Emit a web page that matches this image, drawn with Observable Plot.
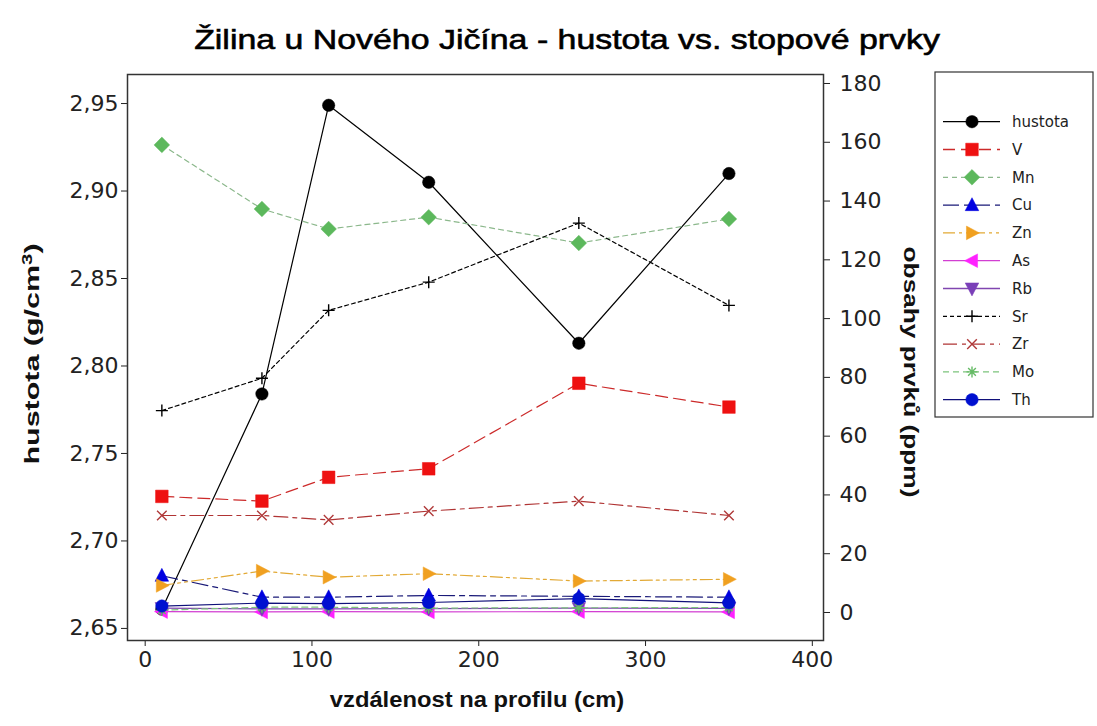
<!DOCTYPE html>
<html>
<head>
<meta charset="utf-8">
<script src="https://cdn.jsdelivr.net/npm/d3@7"></script>
<script src="https://cdn.jsdelivr.net/npm/@observablehq/plot@0.6"></script>
<style>
  html, body { margin: 0; padding: 0; background: #fff; }
  #wrap { position: relative; width: 1097px; height: 726px; overflow: hidden; background: #fff; }
  #chart { position: absolute; left: 0; top: 0; }
  .lbl { position: absolute; white-space: nowrap; font-family: "Liberation Sans", Arial, sans-serif; color: #111; line-height: 1; }
  #title { left: 567px; top: 40px; font-size: 28px; color: #000; -webkit-text-stroke: 0.6px #000; transform: translate(-50%, -50%) scaleX(1.21); }
  #xlabel { left: 477px; top: 700px; font-size: 22px; font-weight: bold; transform: translate(-50%, -50%) scaleX(1.08); }
  #ylabel { left: 31px; top: 354px; font-size: 21px; font-weight: bold; transform: translate(-50%, -50%) rotate(-90deg) scaleX(1.45); }
  #ylabel sup { font-size: 14px; vertical-align: 0.55em; }
  #y2label { left: 911px; top: 372px; font-size: 21px; font-weight: bold; transform: translate(-50%, -50%) rotate(90deg) scaleX(1.25); }
  #legend { position: absolute; left: 0; top: 0; }
</style>
</head>
<body>
<div id="wrap">
  <div id="chart"></div>
  <div class="lbl" id="title"></div>
  <div class="lbl" id="xlabel"></div>
  <div class="lbl" id="ylabel"></div>
  <div class="lbl" id="y2label"></div>
  <svg id="legend" width="1097" height="726"></svg>
</div>
<script>
// ---------------- data ----------------
const distance = [10, 70, 110, 170, 260, 350];
const hustota  = [2.661, 2.784, 2.949, 2.905, 2.813, 2.910];
const V  = [39.5, 37.9, 46.0, 48.9, 78.0, 69.9];
const Mn = [159.1, 137.3, 130.5, 134.5, 125.7, 133.9];
const Cu = [12.5, 5.2, 5.2, 5.8, 5.5, 5.2];
const Zn = [9.2, 14.1, 12.0, 13.2, 10.7, 11.3];
const As = [0.3, 0.2, 0.3, 0.2, 0.3, 0.2];
const Rb = [1.5, 1.2, 1.2, 1.3, 1.5, 1.4];
const Sr = [68.7, 79.7, 102.8, 112.4, 132.5, 104.5];
const Zr = [33.0, 33.0, 31.5, 34.5, 37.9, 33.0];
const Mo = [0.8, 1.8, 1.8, 1.5, 1.6, 1.7];
const Th = [2.2, 3.2, 3.0, 3.4, 4.7, 3.3];

const seriesNames  = ["hustota", "V", "Mn", "Cu", "Zn", "As", "Rb", "Sr", "Zr", "Mo", "Th"];
const seriesValues = [hustota, V, Mn, Cu, Zn, As, Rb, Sr, Zr, Mo, Th];

const xTicks       = [0, 100, 200, 300, 400];
const densityTicks = [2.65, 2.70, 2.75, 2.80, 2.85, 2.90, 2.95];
const ppmTicks     = [0, 20, 40, 60, 80, 100, 120, 140, 160, 180];

const titleText  = "Žilina u Nového Jičína - hustota vs. stopové prvky";
const xLabelText = "vzdálenost na profilu (cm)";
const yLabelHtml = "hustota (g/cm<sup>3</sup>)";
const y2LabelText = "obsahy prvků (ppm)";

// ---------------- styles ----------------
const lineColors   = ["#000000", "#cc2a2a", "#8cb88c", "#1a1a78", "#e2a935", "#d23fd2", "#8046b0", "#000000", "#b03434", "#7cc47c", "#10107a"];
const markerColors = ["#000000", "#ee1111", "#5cb85c", "#0000e0", "#f0a020", "#ff22ff", "#7a3fb8", "#000000", "#b03a3a", "#66bb66", "#0010d0"];
const dashes       = [null, "12,6", "5,4", "16,5,5,5", "12,4,3,4,3,4", null, null, "4,3", "14,5,4,5", "6,4", null];
const markerKinds  = ["circle", "square", "diamond", "up", "right", "left", "down", "plus", "times", "asterisk", "circle"];
const markerR      = [6.2, 6.3, 7.8, 7.4, 7.4, 7.4, 7.4, 6, 6, 5.5, 6.2];

// scale set-up (left axis: density, right axis: ppm mapped into density units)
const xDomain = [-10.6, 406.7];
const densityDomain = [2.6431, 2.9666];
const ppmDomain = [-9.53, 183.06];
const ppmToY = v => densityDomain[0] + (v - ppmDomain[0]) * (densityDomain[1] - densityDomain[0]) / (ppmDomain[1] - ppmDomain[0]);
const yToPpm = y => ppmDomain[0] + (y - densityDomain[0]) * (ppmDomain[1] - ppmDomain[0]) / (densityDomain[1] - densityDomain[0]);

// ---------------- symbols ----------------
const rad = size => Math.sqrt(size / Math.PI);
function triangle(rot) {
  return {draw(ctx, size) {
    const r = rad(size);
    const pts = [[0, -r], [0.92 * r, 0.75 * r], [-0.92 * r, 0.75 * r]].map(([a, b]) => rot(a, b));
    ctx.moveTo(pts[0][0], pts[0][1]); ctx.lineTo(pts[1][0], pts[1][1]); ctx.lineTo(pts[2][0], pts[2][1]); ctx.closePath();
  }};
}
const symbolDefs = {
  circle: {draw(ctx, size) { const r = rad(size); ctx.moveTo(r, 0); ctx.arc(0, 0, r, 0, 2 * Math.PI); }},
  square: {draw(ctx, size) { const r = rad(size); ctx.rect(-r, -r, 2 * r, 2 * r); }},
  diamond: {draw(ctx, size) { const r = rad(size); ctx.moveTo(0, -r); ctx.lineTo(r, 0); ctx.lineTo(0, r); ctx.lineTo(-r, 0); ctx.closePath(); }},
  up: triangle((a, b) => [a, b]),
  down: triangle((a, b) => [a, -b]),
  right: triangle((a, b) => [-b, a]),
  left: triangle((a, b) => [b, a]),
  plus: {draw(ctx, size) { const r = rad(size); ctx.moveTo(-r, 0); ctx.lineTo(r, 0); ctx.moveTo(0, -r); ctx.lineTo(0, r); }},
  times: {draw(ctx, size) { const r = rad(size) * 0.8; ctx.moveTo(-r, -r); ctx.lineTo(r, r); ctx.moveTo(-r, r); ctx.lineTo(r, -r); }},
  asterisk: {draw(ctx, size) { const r = rad(size); const d = r * 0.7;
    ctx.moveTo(0, -r); ctx.lineTo(0, r); ctx.moveTo(-d, -d); ctx.lineTo(d, d); ctx.moveTo(-d, d); ctx.lineTo(d, -d); ctx.moveTo(-r, 0); ctx.lineTo(r, 0); }}
};
const strokeOnly = new Set(["plus", "times", "asterisk"]);

// ---------------- table ----------------
const rows = [];
seriesNames.forEach((name, k) => {
  seriesValues[k].forEach((v, i) => {
    rows.push({name, k, x: distance[i], y: k === 0 ? v : ppmToY(v)});
  });
});

// ---------------- marks ----------------
const marks = [];
seriesNames.forEach((name, k) => {
  const data = rows.filter(d => d.k === k);
  marks.push(Plot.line(data, {
    x: "x", y: "y", stroke: lineColors[k], strokeWidth: 1.2,
    strokeDasharray: dashes[k] ?? undefined
  }));
  const kind = markerKinds[k];
  marks.push(Plot.dot(data, {
    x: "x", y: "y", symbol: symbolDefs[kind], r: markerR[k],
    fill: strokeOnly.has(kind) ? "none" : markerColors[k],
    stroke: markerColors[k], strokeWidth: strokeOnly.has(kind) ? 1.4 : 0.5
  }));
});

const chart = Plot.plot({
  width: 1097,
  height: 726,
  marginTop: 74,
  marginBottom: 86,
  marginLeft: 127,
  marginRight: 274,
  style: {fontFamily: "'DejaVu Sans', Verdana, sans-serif", fontSize: "22px", color: "#222", background: "transparent", overflow: "visible"},
  x: {domain: xDomain, axis: null},
  y: {domain: densityDomain, axis: null},
  marks: [
    Plot.axisX({ticks: xTicks, tickSize: 6, tickPadding: 5, tickFormat: d => String(d), label: null}),
    Plot.axisY({ticks: densityTicks, tickSize: 6, tickPadding: 3, tickFormat: d => d.toFixed(2).replace(".", ","), label: null}),
    Plot.axisY({anchor: "right", ticks: ppmTicks.map(ppmToY), tickSize: 6, tickPadding: 10,
      tickFormat: d => String(Math.round(yToPpm(d))), label: null}),
    ...marks,
    Plot.frame({stroke: "#333", strokeWidth: 1.5})
  ]
});
document.getElementById("chart").appendChild(chart);

// ---------------- text ----------------
document.getElementById("title").textContent = titleText;
document.getElementById("xlabel").textContent = xLabelText;
document.getElementById("ylabel").innerHTML = yLabelHtml;
document.getElementById("y2label").textContent = y2LabelText;

// ---------------- legend ----------------
const leg = d3.select("#legend");
const box = {x: 935, y: 72, w: 158, h: 345};
leg.append("rect").attr("x", box.x).attr("y", box.y).attr("width", box.w).attr("height", box.h)
  .attr("fill", "#fff").attr("stroke", "#333").attr("stroke-width", 1.2);
const legTop = 121.7, legStep = 27.8;
seriesNames.forEach((name, k) => {
  const cy = legTop + k * legStep;
  leg.append("line").attr("x1", 943).attr("x2", 1000).attr("y1", cy).attr("y2", cy)
    .attr("stroke", lineColors[k]).attr("stroke-width", 1.3)
    .attr("stroke-dasharray", dashes[k]);
  const kind = markerKinds[k];
  const r = markerR[k];
  leg.append("path")
    .attr("d", d3.symbol().type(symbolDefs[kind]).size(Math.PI * r * r)())
    .attr("transform", `translate(972,${cy})`)
    .attr("fill", strokeOnly.has(kind) ? "none" : markerColors[k])
    .attr("stroke", markerColors[k]).attr("stroke-width", strokeOnly.has(kind) ? 1.4 : 0.5);
  leg.append("text").attr("x", 1012).attr("y", cy).attr("dy", "0.35em")
    .attr("font-family", "'DejaVu Sans', Verdana, sans-serif").attr("font-size", 15)
    .attr("fill", "#222").text(name);
});
</script>
</body>
</html>
